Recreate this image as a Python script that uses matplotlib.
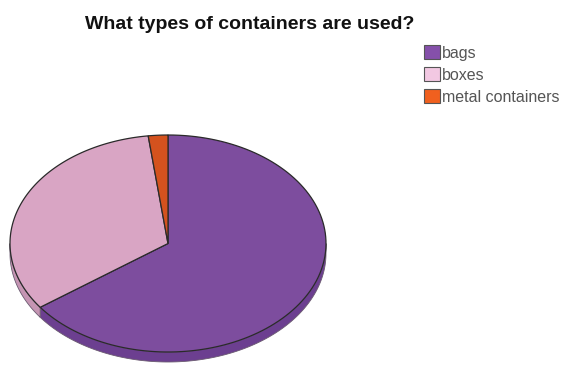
import numpy as np
import matplotlib.pyplot as plt
from matplotlib.patches import Polygon, Patch

labels = ["bags", "boxes", "metal containers"]
values = [65, 33, 2]
top_colors = ["#7d4d9e", "#d9a5c4", "#d4521e"]
side_colors = ["#6c3f90", "#c595b3", "#a83e14"]
legend_colors = ["#8550aa", "#f2c8e2", "#f0601f"]

# pie geometry in pixel units
cx, cy = 168, 243.5
rx, ry = 158, 108.5
depth = 10

fig = plt.figure(figsize=(5.67, 3.65), dpi=100)
ax = fig.add_axes([0, 0, 1, 1])
ax.set_xlim(0, 567)
ax.set_ylim(365, 0)
ax.axis("off")


def edge(t0, t1, n=120):
    t = np.radians(np.linspace(t0, t1, n))
    return cx + rx * np.cos(t), cy - ry * np.sin(t)


# slice angles, clockwise from the top
fracs = np.array(values) / sum(values)
starts = 90 - 360 * np.concatenate([[0], np.cumsum(fracs)[:-1]])
ends = starts - 360 * fracs

# side walls for the front half of the pie
for s, e, c in zip(starts, ends, side_colors):
    lo, hi = max(e, -180), min(s, 0)
    if hi <= lo:
        lo, hi = max(e + 360, -180), min(s + 360, 0)
    if hi > lo:
        x, y = edge(hi, lo)
        pts = np.column_stack([np.r_[x, x[::-1]], np.r_[y, y[::-1] + depth]])
        ax.add_patch(Polygon(pts, closed=True, facecolor=c,
                             edgecolor="#6a5a70", linewidth=0.6))

# top faces
for s, e, c in zip(starts, ends, top_colors):
    x, y = edge(s, e)
    pts = np.column_stack([np.r_[cx, x], np.r_[cy, y]])
    ax.add_patch(Polygon(pts, closed=True, facecolor=c,
                         edgecolor="#2a2a2a", linewidth=0.9))

ax.text(250, 24.5, "What types of containers are used?", ha="center", va="center",
        fontsize=14, fontweight="bold", family="Liberation Sans", color="#111111")

handles = [Patch(facecolor=c, edgecolor="#555555", linewidth=0.8) for c in legend_colors]
fig.legend(handles, labels, loc="upper left", bbox_to_anchor=(424 / 567, 1 - 45 / 365),
           frameon=False, handlelength=1.0, handleheight=1.0,
           handletextpad=0.1, labelspacing=0.4, borderaxespad=0, borderpad=0,
           labelcolor="#555555", prop={"family": "Liberation Sans", "size": 11.5})

fig.savefig("out.png", dpi=100)
